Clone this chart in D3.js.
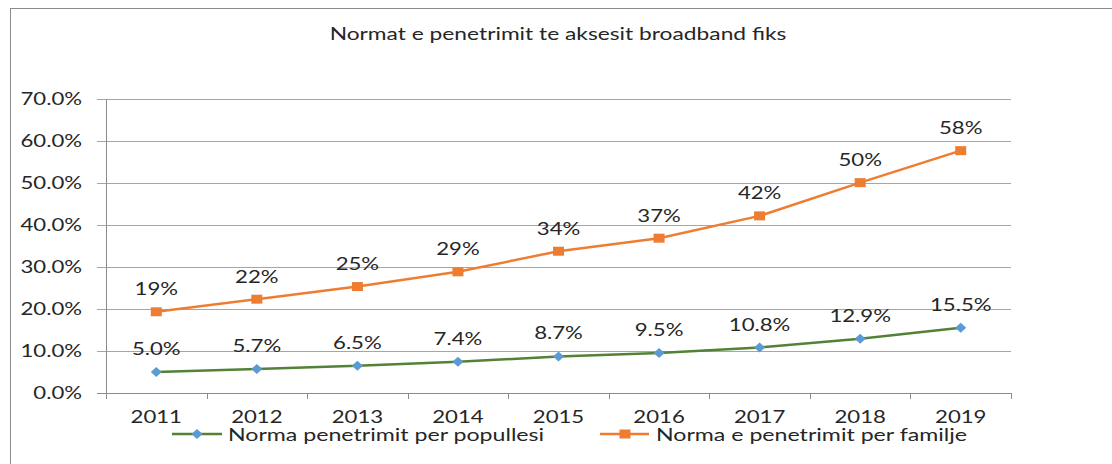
<!DOCTYPE html>
<html>
<head>
<meta charset="utf-8">
<script src="https://cdn.jsdelivr.net/npm/d3@7"></script>
<style>
  html, body { margin: 0; padding: 0; background: #fff; }
  svg { display: block; }
  text { font-family: Lato, "Open Sans", sans-serif; fill: #262626; }
</style>
</head>
<body>
<svg id="chart" width="1112" height="464"></svg>
<script>
const title = "Normat e penetrimit te aksesit broadband fiks";
const years = ["2011","2012","2013","2014","2015","2016","2017","2018","2019"];
const popName = "Norma penetrimit per popullesi";
const famName = "Norma e penetrimit per familje";
const popValues = [5.0, 5.7, 6.5, 7.4, 8.7, 9.5, 10.8, 12.9, 15.5];
const famValues = [19.3, 22.3, 25.3, 28.8, 33.7, 36.8, 42.1, 50.0, 57.6];
const yTicks = [0, 10, 20, 30, 40, 50, 60, 70];

(function () {
const SX = 1.36;
const FS = 16.3;
const svg = d3.select("#chart");

// outer border
svg.append("rect").attr("x", 10.5).attr("y", 8.5).attr("width", 1300).attr("height", 700)
  .attr("fill", "none").attr("stroke", "#8c8c8c").attr("stroke-width", 1);

const pLeft = 106, pRight = 1011, pTop = 98.5, pBottom = 393;
const x = d3.scaleBand().domain(years).range([pLeft, pRight]);
const y = d3.scaleLinear().domain([0, 70]).range([pBottom, pTop]);
const cx = d => x(d) + x.bandwidth() / 2;

// gridlines
svg.append("g").selectAll("line").data(yTicks).join("line")
  .attr("x1", pLeft - 9).attr("x2", pRight)
  .attr("y1", d => Math.round(y(d)) + 0.5).attr("y2", d => Math.round(y(d)) + 0.5)
  .attr("stroke", d => d === 0 ? "#8c8c8c" : "#a6a6a6").attr("stroke-width", 1);

// vertical axis line
svg.append("line").attr("x1", pLeft + 0.5).attr("x2", pLeft + 0.5)
  .attr("y1", Math.round(pTop)).attr("y2", pBottom + 6)
  .attr("stroke", "#8c8c8c");

// category boundary ticks
const bounds = years.map(d => x(d)).concat([pRight]);
svg.append("g").selectAll("line").data(bounds).join("line")
  .attr("x1", d => Math.round(d) + 0.5).attr("x2", d => Math.round(d) + 0.5)
  .attr("y1", pBottom).attr("y2", pBottom + 6)
  .attr("stroke", "#8c8c8c");

// y axis labels
const yAxis = d3.axisLeft(y).tickValues(yTicks).tickSize(0).tickFormat(d => d3.format(".1f")(d) + "%");
const gy = svg.append("g").attr("transform", `translate(${pLeft},0)`).call(yAxis);
gy.select(".domain").remove();
gy.selectAll("text").attr("x", 0).attr("dy", "0.36em")
  .attr("transform", `translate(-24,0) scale(${SX},1)`)
  .style("font-size", FS + "px").style("font-family", "Lato").attr("fill", "#262626");

// x axis labels
const xAxis = d3.axisBottom(x).tickSize(0);
const gx = svg.append("g").attr("transform", `translate(0,${pBottom})`).call(xAxis);
gx.select(".domain").remove();
gx.selectAll("text").attr("y", 0).attr("dy", 0)
  .attr("transform", `translate(0,30) scale(${SX},1)`)
  .style("font-size", FS + "px").style("font-family", "Lato").attr("fill", "#262626");

function addText(px, py, str, anchor, size, sx) {
  svg.append("text").attr("transform", `translate(${px},${py}) scale(${sx || SX},1)`)
    .attr("text-anchor", anchor).style("font-size", (size || FS) + "px").text(str);
}

// title
addText(558, 39.5, title, "middle", 16.5, 1.38);

const line = d3.line().x((d, i) => cx(years[i])).y(d => y(d));

// family series
svg.append("path").datum(famValues).attr("d", line)
  .attr("fill", "none").attr("stroke", "#ED7D31").attr("stroke-width", 2.5);
svg.append("g").selectAll("rect").data(famValues).join("rect")
  .attr("x", (d, i) => cx(years[i]) - 5.5).attr("y", d => y(d) - 4.5)
  .attr("width", 11).attr("height", 9).attr("fill", "#ED7D31");

// population series
svg.append("path").datum(popValues).attr("d", line)
  .attr("fill", "none").attr("stroke", "#538135").attr("stroke-width", 2.5);
const diamond = (px, py) => `M${px - 5.5},${py} L${px},${py - 5} L${px + 5.5},${py} L${px},${py + 5} Z`;
svg.append("g").selectAll("path").data(popValues).join("path")
  .attr("d", (d, i) => diamond(cx(years[i]), y(d))).attr("fill", "#5B9BD5");

// data labels
famValues.forEach((v, i) => addText(cx(years[i]), y(v) - 16.5, d3.format(".0f")(v) + "%", "middle"));
popValues.forEach((v, i) => addText(cx(years[i]), y(v) - 17, d3.format(".1f")(v) + "%", "middle"));

// legend
const ly = 434;
svg.append("line").attr("x1", 172).attr("x2", 222).attr("y1", ly).attr("y2", ly)
  .attr("stroke", "#538135").attr("stroke-width", 2.5);
svg.append("path").attr("d", diamond(197, ly)).attr("fill", "#5B9BD5");
addText(228, 441, popName, "start", FS, 1.42);
svg.append("line").attr("x1", 600).attr("x2", 649).attr("y1", ly).attr("y2", ly)
  .attr("stroke", "#ED7D31").attr("stroke-width", 2.5);
svg.append("rect").attr("x", 619.5).attr("y", ly - 4.5).attr("width", 11).attr("height", 9).attr("fill", "#ED7D31");
addText(656, 441, famName, "start", FS, 1.42);
})();
</script>
</body>
</html>
